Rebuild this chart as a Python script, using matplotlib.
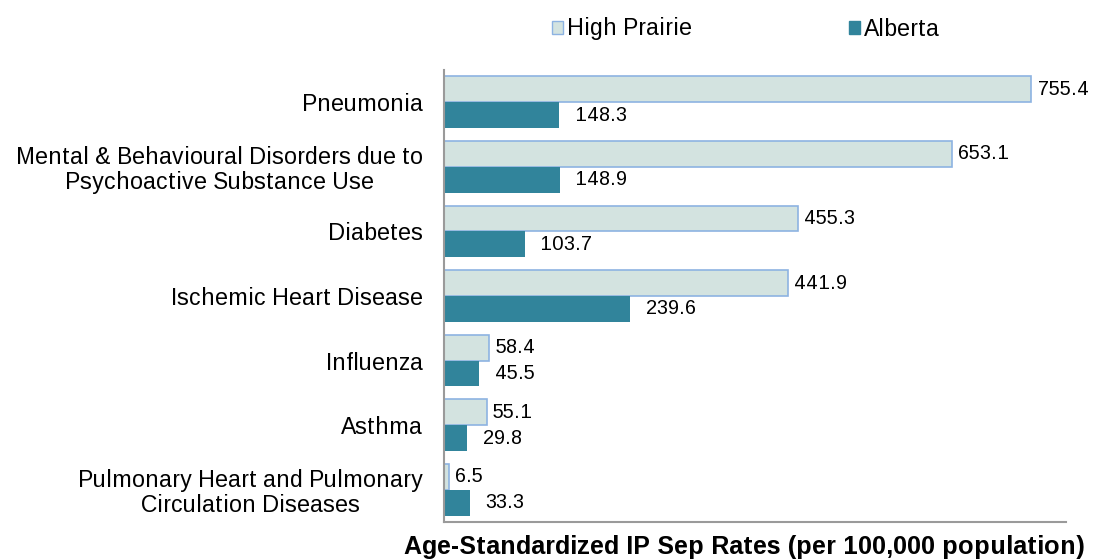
import numpy as np
import matplotlib
matplotlib.use("Agg")
from matplotlib import pyplot as plt
from matplotlib.patches import Patch

plt.rcParams['font.family'] = ['Liberation Sans', 'DejaVu Sans']
plt.rcParams['text.hinting_factor'] = 1

categories = ["Pneumonia",
              "Mental & Behavioural Disorders due to\nPsychoactive Substance Use",
              "Diabetes",
              "Ischemic Heart Disease",
              "Influenza",
              "Asthma",
              "Pulmonary Heart and Pulmonary\nCirculation Diseases"]
high_prairie = [755.4, 653.1, 455.3, 441.9, 58.4, 55.1, 6.5]
alberta = [148.3, 148.9, 103.7, 239.6, 45.5, 29.8, 33.3]

hp_fill = "#d3e3e0"
hp_edge = "#8db3e2"
ab_col = "#31849b"

fig = plt.figure(figsize=(10.93, 5.6), dpi=100)
ax = fig.add_axes([444 / 1093, 1 - 522 / 560, (1066 - 444) / 1093, (522 - 70) / 560])

y = np.arange(len(categories))
h = 0.4
ax.barh(y - h / 2, high_prairie, height=h, color=hp_fill, edgecolor=hp_edge, linewidth=1.2)
ax.barh(y + h / 2, alberta, height=h, color=ab_col, edgecolor=ab_col, linewidth=0)

for yi, v in zip(y, high_prairie):
    ax.text(v + 8, yi - h / 2, f"{v:.1f}", va="center", ha="left", fontsize=14.5)
for yi, v in zip(y, alberta):
    ax.text(v + 20, yi + h / 2, f"{v:.1f}", va="center", ha="left", fontsize=14.5)

ax.set_xlim(0, 800)
ax.set_ylim(len(categories) - 0.5, -0.5)
ax.set_yticks(y)
ax.set_yticklabels(categories, fontsize=16.6, ha="right", multialignment="center",
                   linespacing=1.1)
ax.tick_params(axis="y", length=0, pad=15)
ax.set_xticks([])
for s in ["top", "right"]:
    ax.spines[s].set_visible(False)
for s in ["left", "bottom"]:
    ax.spines[s].set_color("#9a9a9a")
    ax.spines[s].set_linewidth(1.5)

fig.text(745 / 1093, 1 - 547 / 560, "Age-Standardized IP Sep Rates (per 100,000 population)",
         ha="center", va="center", fontsize=18.2, fontweight="bold")

handles = [Patch(facecolor=hp_fill, edgecolor=hp_edge, label="High Prairie"),
           Patch(facecolor=ab_col, edgecolor=ab_col, label="Alberta")]
fig.legend(handles=handles, loc="center", bbox_to_anchor=(746 / 1093, 1 - 29 / 560),
           ncol=2, frameon=False, fontsize=16.3, handlelength=0.52, handleheight=0.52,
           handletextpad=0.18, columnspacing=6.9, borderpad=0)

fig.savefig("out.png", dpi=100)
